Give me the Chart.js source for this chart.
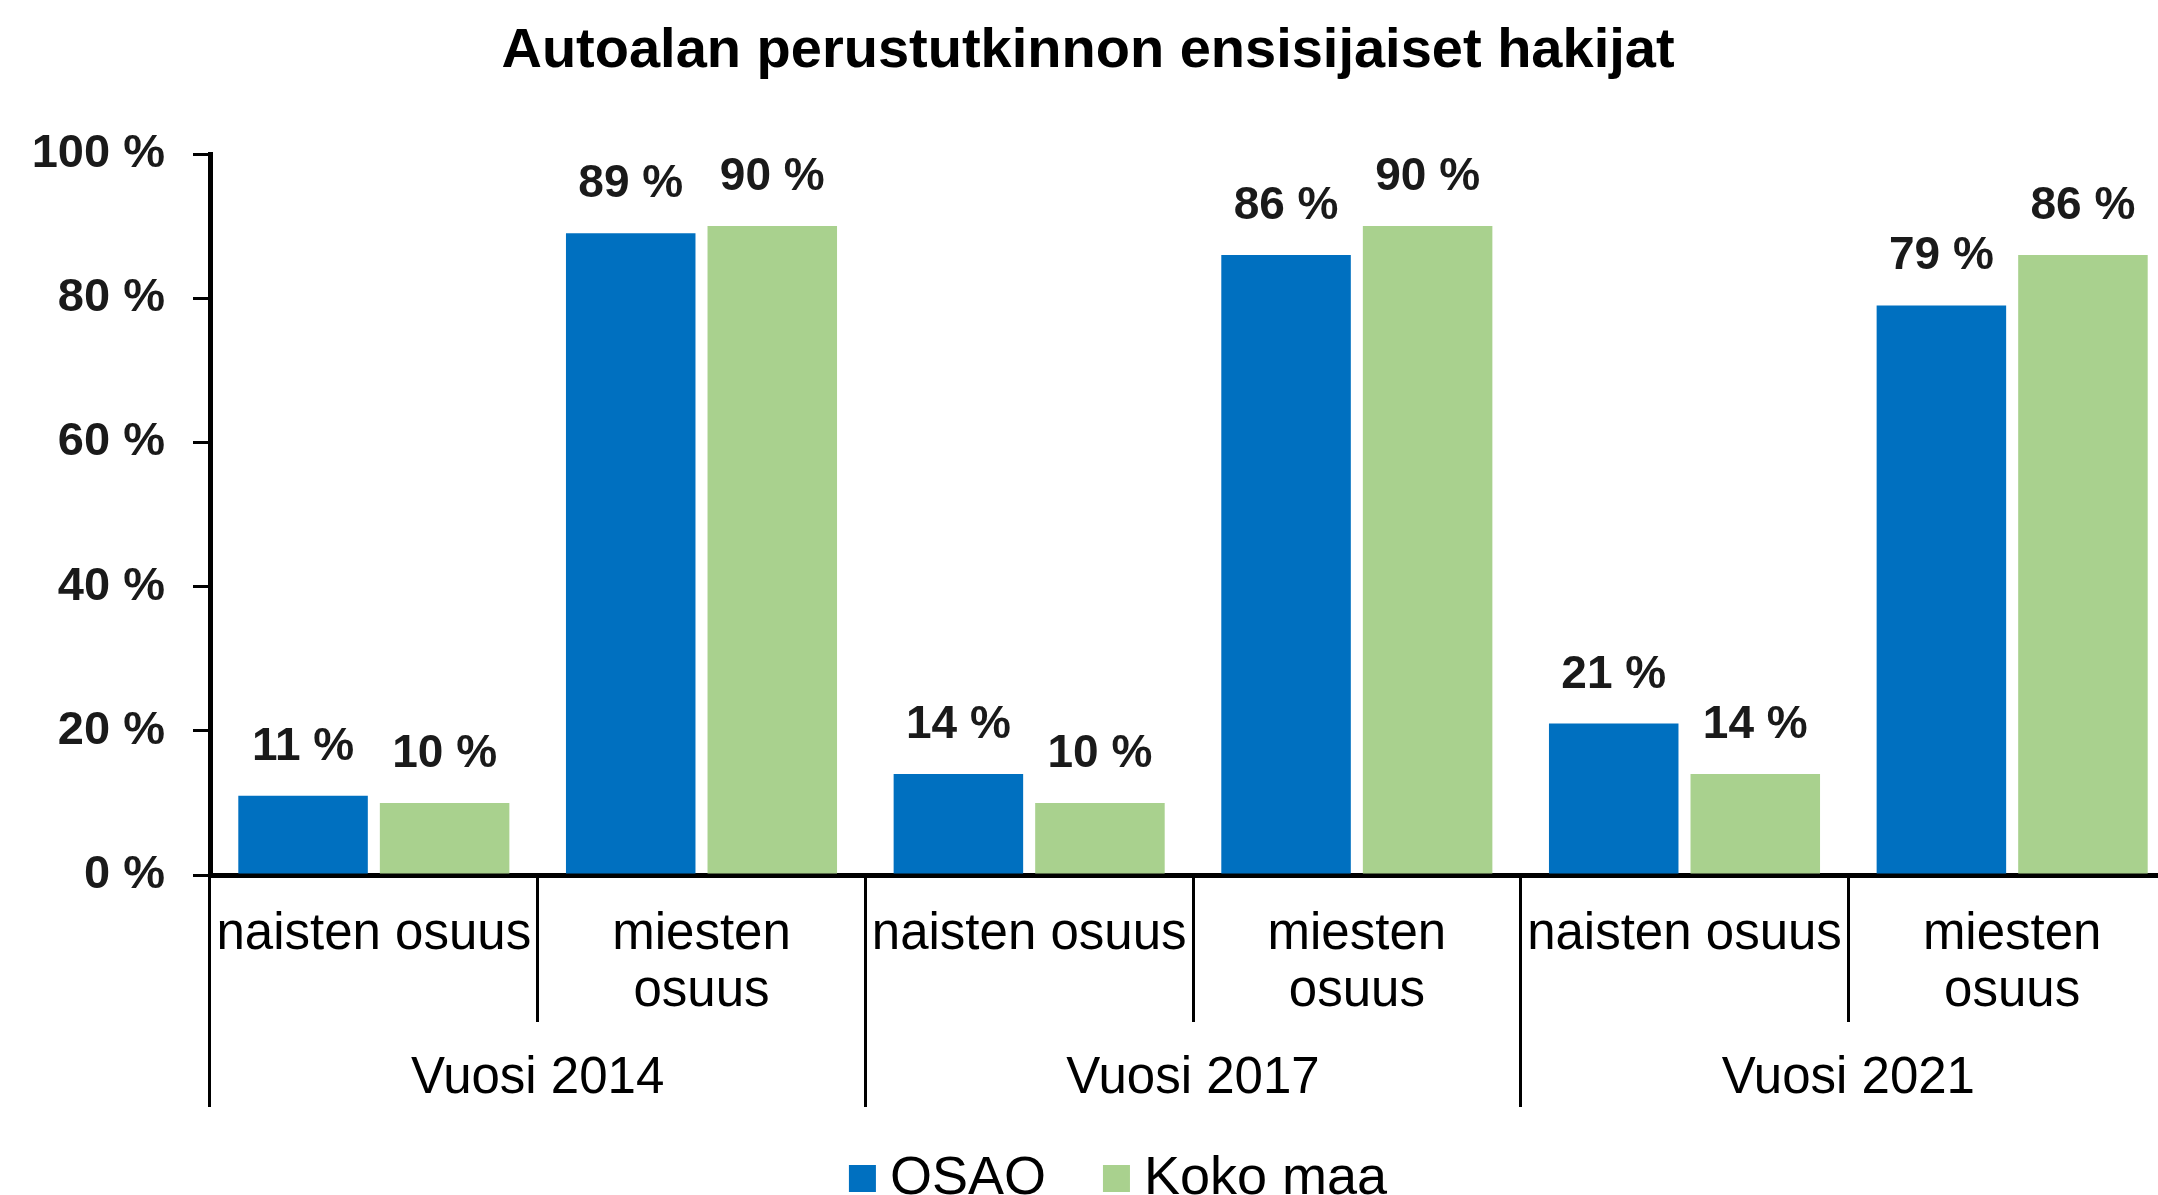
<!DOCTYPE html>
<html>
<head>
<meta charset="utf-8">
<script src="https://cdn.jsdelivr.net/npm/chart.js@4/dist/chart.umd.min.js"></script>
<style>
  html, body { margin: 0; padding: 0; background: #fff; overflow: hidden; width: 2158px; height: 1195px; }
  canvas { display: block; }
</style>
</head>
<body>
<canvas id="c" width="2176" height="1195" style="width:2176px;height:1195px"></canvas>
<script>
// ---- data ----
const categories = ['naisten osuus', ['miesten', 'osuus'], 'naisten osuus', ['miesten', 'osuus'], 'naisten osuus', ['miesten', 'osuus']];
const yearGroups = ['Vuosi 2014', 'Vuosi 2017', 'Vuosi 2021'];
const seriesNames = ['OSAO', 'Koko maa'];
const osaoValues = [11, 89, 14, 86, 21, 79];
const kokoMaaValues = [10, 90, 10, 90, 14, 86];
const yMin = 0, yMax = 100, yStep = 20;
const chartTitle = 'Autoalan perustutkinnon ensisijaiset hakijat';

// ---- style ----
const FONT = '"Liberation Sans", Arial, Helvetica, sans-serif';
const BLUE = '#0070C0';
const GREEN = '#A9D18E';
const TXT = '#1a1a1a';
Chart.defaults.font.family = FONT;

const dataLabels = {
  id: 'dataLabels',
  afterDatasetsDraw(chart) {
    const ctx = chart.ctx;
    ctx.save();
    ctx.font = `bold 46px ${FONT}`;
    ctx.fillStyle = TXT;
    ctx.textAlign = 'center';
    ctx.textBaseline = 'alphabetic';
    chart.data.datasets.forEach((ds, i) => {
      chart.getDatasetMeta(i).data.forEach((el, j) => {
        ctx.fillText(ds.data[j] + ' %', el.x, el.y - 36);
      });
    });
    ctx.restore();
  }
};

const bottomLegend = {
  id: 'bottomLegend',
  afterDraw(chart) {
    const ctx = chart.ctx;
    ctx.save();
    ctx.font = `54px ${FONT}`;
    ctx.textBaseline = 'alphabetic';
    ctx.textAlign = 'left';
    const box = 27, gap = 14, itemGap = 57;
    const items = chart.data.datasets.map(ds => ({ text: ds.label, color: ds.backgroundColor, w: ctx.measureText(ds.label).width }));
    let total = 0;
    items.forEach((it, i) => { total += box + gap + it.w + (i < items.length - 1 ? itemGap : 0); });
    let x = 1118 - total / 2;
    const baseline = chart.scales.x2.bottom + 87;
    items.forEach(it => {
      ctx.fillStyle = it.color;
      ctx.fillRect(x, baseline - 29, box, box);
      ctx.fillStyle = '#000';
      ctx.fillText(it.text, x + box + gap, baseline);
      x += box + gap + it.w + itemGap;
    });
    ctx.restore();
  }
};

new Chart(document.getElementById('c'), {
  type: 'bar',
  data: {
    labels: categories,
    datasets: [
      { label: seriesNames[0], data: osaoValues, backgroundColor: BLUE, borderWidth: 0, barPercentage: 0.915, categoryPercentage: 0.864 },
      { label: seriesNames[1], data: kokoMaaValues, backgroundColor: GREEN, borderWidth: 0, barPercentage: 0.915, categoryPercentage: 0.864 }
    ]
  },
  options: {
    responsive: false,
    animation: false,
    devicePixelRatio: 1,
    layout: { padding: { left: 0, right: 0, top: 0, bottom: 88 } },
    plugins: {
      legend: { display: false },
      tooltip: { enabled: false },
      title: {
        display: true,
        text: chartTitle,
        color: '#000',
        font: { size: 56, weight: 'bold', lineHeight: 1 },
        padding: { top: 23.6, bottom: 74.4 }
      }
    },
    scales: {
      y: {
        min: yMin, max: yMax,
        afterFit(s) { s.width = 210; },
        ticks: { stepSize: yStep, callback: v => v + ' %', color: TXT, font: { size: 47, weight: 'bold' }, padding: 28 },
        grid: { drawOnChartArea: false, drawTicks: true, tickLength: 17, color: '#000', lineWidth: 3 },
        border: { display: true, color: '#000', width: 5 }
      },
      x: {
        position: 'bottom',
        weight: 0,
        offset: true,
        afterFit(s) { s.height = 147; },
        ticks: { autoSkip: false, maxRotation: 0, minRotation: 0, color: '#000', font: { size: 51, lineHeight: 1.118 }, padding: -116 },
        grid: { offset: true, drawOnChartArea: false, drawTicks: true, tickLength: 147, color: '#000', lineWidth: 3 },
        border: { display: true, color: '#000', width: 5 }
      },
      x2: {
        type: 'category',
        labels: yearGroups,
        position: 'bottom',
        weight: 1,
        offset: true,
        afterFit(s) { s.height = 85; },
        ticks: { autoSkip: false, maxRotation: 0, minRotation: 0, color: '#000', font: { size: 51, lineHeight: 1 }, padding: -54 },
        grid: { offset: true, drawOnChartArea: false, drawTicks: true, tickLength: 85, color: '#000', lineWidth: 3 },
        border: { display: false }
      }
    }
  },
  plugins: [dataLabels, bottomLegend]
});
</script>
</body>
</html>
